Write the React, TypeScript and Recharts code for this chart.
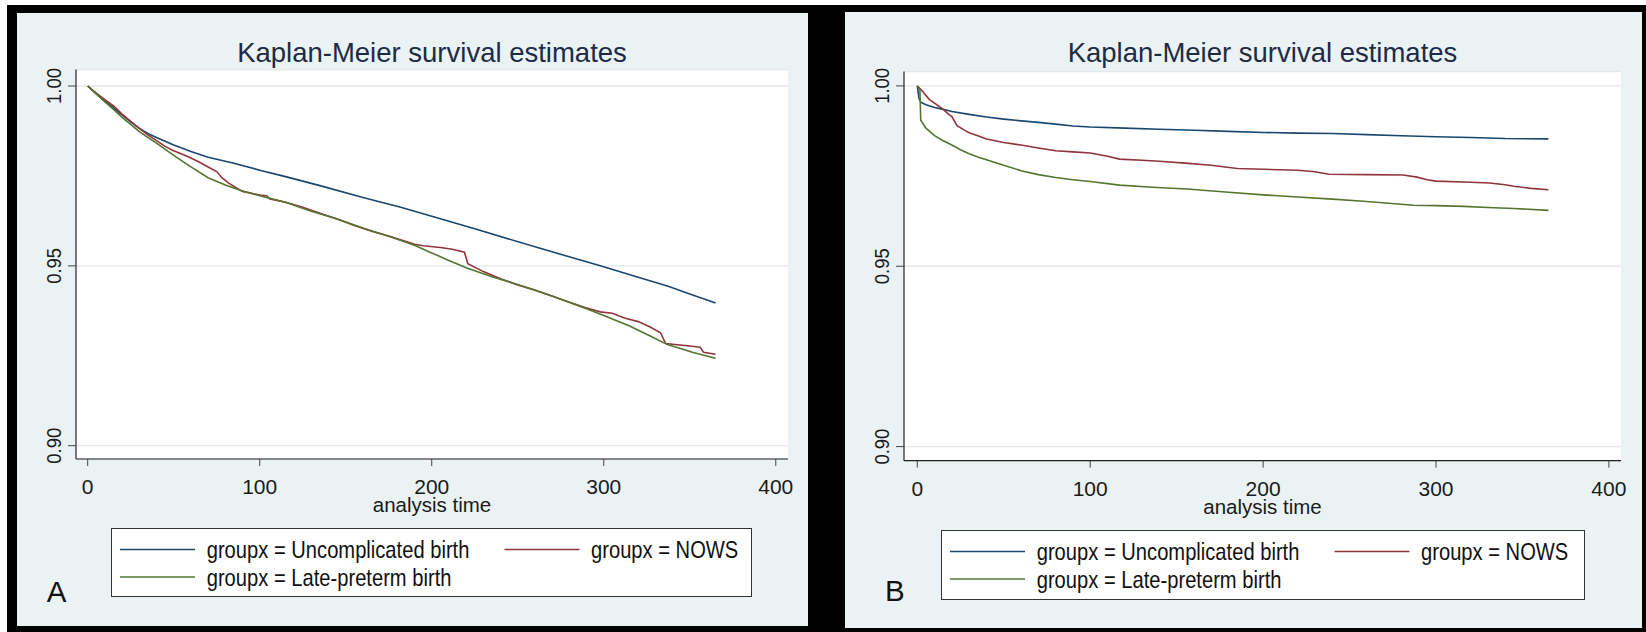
import React from 'react';
import { LineChart, Line, XAxis, YAxis, CartesianGrid, Legend } from 'recharts';

const FONT = '"Liberation Sans", Arial, Helvetica, sans-serif';

const xTicks = [0, 100, 200, 300, 400];
const yTicks = [0.9, 0.95, 1.0];
const seriesNames = ['groupx = Uncomplicated birth', 'groupx = NOWS', 'groupx = Late-preterm birth'];
const seriesColors = ['#1a476f', '#90353b', '#55752f'];

// ---- panel A : survival by day ----
const timeA_uncomp = [0, 5, 10, 15, 20, 25, 30, 35, 40, 50, 60, 70, 85, 100, 115, 135, 160, 182, 200, 225, 260, 298, 320, 337, 350, 365];
const survA_uncomp = [1.0, 0.9978, 0.9958, 0.994, 0.992, 0.99, 0.9882, 0.9868, 0.9857, 0.9836, 0.9818, 0.9802, 0.9785, 0.9766, 0.9748, 0.9723, 0.969, 0.9663, 0.9638, 0.9603, 0.9553, 0.95, 0.9468, 0.9444, 0.9422, 0.9397];

const timeA_nows = [0, 5, 10, 15, 20, 25, 30, 35, 40, 45, 50, 55, 60, 65, 70, 75, 78, 82, 86, 90, 100, 104, 106, 110, 115, 125, 135, 145, 155, 165, 175, 185, 190, 195, 205, 212, 219, 221, 230, 240, 250, 260, 270, 280, 290, 298, 305, 312, 320, 327, 333, 336, 340, 350, 356, 358, 365];
const survA_nows = [1.0, 0.998, 0.9962, 0.9945, 0.9922, 0.9902, 0.9882, 0.9864, 0.9848, 0.9832, 0.982, 0.981, 0.98, 0.9788, 0.9775, 0.9762, 0.9745, 0.973, 0.9718, 0.9707, 0.9697, 0.9695, 0.9686, 0.9682, 0.9677, 0.9663, 0.9646, 0.963, 0.9612, 0.9596, 0.9583, 0.9568, 0.956, 0.9556, 0.9551, 0.9546, 0.9538, 0.9506, 0.9484, 0.9464, 0.9447, 0.9432, 0.9416, 0.9399, 0.9383, 0.9372, 0.9368, 0.9355, 0.9345, 0.933, 0.9314, 0.9284, 0.9282, 0.9277, 0.9274, 0.926, 0.9254];

const timeA_late = [0, 5, 10, 15, 20, 25, 30, 35, 40, 50, 60, 70, 80, 90, 100, 115, 130, 145, 160, 175, 190, 200, 210, 220, 235, 250, 260, 275, 290, 300, 315, 327, 337, 352, 365];
const survA_late = [1.0, 0.9978, 0.9956, 0.9935, 0.9913, 0.9893, 0.9873, 0.9857, 0.9841, 0.9807, 0.9775, 0.9745, 0.9725, 0.9708, 0.9695, 0.9677, 0.9652, 0.963, 0.9605, 0.9582, 0.9557, 0.9536, 0.9515, 0.9495, 0.947, 0.9448, 0.9433, 0.9407, 0.9381, 0.9362, 0.9333, 0.9305, 0.9281, 0.9259, 0.9243];

// ---- panel B ----
const timeB_uncomp = [0, 1, 2, 5, 10, 15, 20, 30, 40, 50, 60, 70, 80, 90, 100, 120, 140, 160, 180, 200, 220, 240, 260, 280, 300, 320, 340, 365];
const survB_uncomp = [1.0, 0.9965, 0.9955, 0.9948, 0.994, 0.9935, 0.9929, 0.9921, 0.9914, 0.9908, 0.9903, 0.9899, 0.9894, 0.9889, 0.9886, 0.9883, 0.988, 0.9877, 0.9874, 0.9871, 0.9869, 0.9868, 0.9865, 0.9862, 0.9859, 0.9857, 0.9854, 0.9853];

const timeB_nows = [0, 3, 7, 10, 15, 18, 20, 23, 27, 30, 35, 40, 50, 60, 70, 80, 90, 100, 110, 117, 130, 140, 155, 170, 185, 200, 220, 230, 238, 260, 281, 289, 295, 300, 320, 331, 340, 345, 355, 365];
const survB_nows = [1.0, 0.9985, 0.9962, 0.9952, 0.9935, 0.9922, 0.9915, 0.989, 0.9878, 0.987, 0.9862, 0.9853, 0.9843, 0.9836, 0.9828, 0.982, 0.9817, 0.9814, 0.9805, 0.9797, 0.9794, 0.9791, 0.9786, 0.978, 0.9771, 0.9769, 0.9766, 0.9762, 0.9755, 0.9754, 0.9753, 0.9747, 0.974, 0.9736, 0.9733, 0.9731, 0.9726, 0.9722, 0.9716, 0.9712];

const timeB_late = [0, 1.5, 2, 5, 10, 15, 20, 25, 30, 35, 40, 50, 60, 70, 80, 90, 100, 117, 136, 156, 180, 200, 220, 240, 258, 287, 300, 316, 330, 345, 365];
const survB_late = [1.0, 0.999, 0.9905, 0.9883, 0.9862, 0.9848, 0.9836, 0.9823, 0.9812, 0.9803, 0.9795, 0.978, 0.9765, 0.9754, 0.9746, 0.974, 0.9735, 0.9725, 0.9719, 0.9714, 0.9705, 0.9698, 0.9692, 0.9686, 0.968, 0.9669, 0.9668, 0.9666, 0.9663, 0.966, 0.9655];

const toRows = (t: number[], s: number[]) => t.map((v, i) => ({ t: v, s: s[i] }));

const seriesA = [toRows(timeA_uncomp, survA_uncomp), toRows(timeA_nows, survA_nows), toRows(timeA_late, survA_late)];
const seriesB = [toRows(timeB_uncomp, survB_uncomp), toRows(timeB_nows, survB_nows), toRows(timeB_late, survB_late)];

const panelA = {
  left: 17, top: 13, width: 791, height: 613,
  mTop: 56.5, mRight: 20, xAxisH: 167,
  xDomain: [-6.8, 407.1], yDomain: [0.896302, 1.004587],
  legend: { left: 94, top: 515, w: 641, h: 69 },
  letter: 'A', letterX: 46.7, letterY: 601.5, titleY: 61.5,
};
const panelB = {
  left: 845, top: 12, width: 797, height: 616,
  mTop: 59.5, mRight: 21, xAxisH: 167.3,
  xDomain: [-7.69, 407.0], yDomain: [0.896091, 1.003992],
  legend: { left: 96, top: 518, w: 644, h: 70 },
  letter: 'B', letterX: 885, letterY: 600.5, titleY: 62,
};

const renderXTick = (props: any) => {
  const { x, y, payload } = props;
  return (
    <text x={x} y={y + 26} textAnchor="middle" fontSize={21} fontFamily={FONT} fill="#1a1a1a">
      {payload.value}
    </text>
  );
};

const renderYTick = (props: any) => {
  const { x, y, payload } = props;
  return (
    <g transform={`translate(${x - 5},${y}) rotate(-90) scale(0.88,1)`}>
      <text x={0} y={0} textAnchor="middle" fontSize={21} fontFamily={FONT} fill="#1a1a1a">
        {Number(payload.value).toFixed(2)}
      </text>
    </g>
  );
};

const KMLegend = ({ box }: any) => {
  const lineX = [9, 393.5];
  const textX = [95.7, 480];
  const rowY = [21.5, 49];
  return (
    <svg width={box.w} height={box.h} style={{ display: 'block' }}>
      <rect x={0.5} y={0.5} width={box.w - 1} height={box.h - 1} fill="#fff" stroke="#333" strokeWidth={1} />
      {seriesNames.map((name, i) => {
        const col = i === 1 ? 1 : 0;
        const row = i === 2 ? 1 : 0;
        return (
          <g key={name}>
            <line x1={lineX[col]} x2={lineX[col] + 75} y1={rowY[row]} y2={rowY[row]} stroke={seriesColors[i]} strokeWidth={1.6} />
            <g transform={`translate(${textX[col]},${rowY[row] + 8.6}) scale(0.84,1)`}>
              <text x={0} y={0} fontSize={24} fontFamily={FONT} fill="#111">{name}</text>
            </g>
          </g>
        );
      })}
    </svg>
  );
};

function KMPanel({ cfg, series }: any) {
  const plotW = cfg.width - 59 - cfg.mRight;
  const plotH = cfg.height - cfg.mTop - cfg.xAxisH;
  const renderXTitle = () => (
    <text x={59 + plotW / 2} y={cfg.mTop + plotH + 53} textAnchor="middle" fontSize={20.5} fontFamily={FONT} fill="#1a1a1a">
      analysis time
    </text>
  );
  return (
    <div style={{ position: 'absolute', left: cfg.left, top: cfg.top, width: cfg.width, height: cfg.height, background: '#eaf2f3' }}>
      <LineChart width={cfg.width} height={cfg.height} data={series[0]} margin={{ top: cfg.mTop, right: cfg.mRight, left: 0, bottom: 0 }}>
        <CartesianGrid vertical={false} fill="#ffffff" stroke="#e1e9eb" strokeWidth={1.3} />
        <XAxis
          type="number"
          dataKey="t"
          domain={cfg.xDomain}
          ticks={xTicks}
          interval={0}
          allowDataOverflow
          height={cfg.xAxisH}
          tickSize={7}
          tick={renderXTick}
          axisLine={{ stroke: '#222', strokeWidth: 1.2 }}
          tickLine={{ stroke: '#444' }}
          label={renderXTitle}
        />
        <YAxis
          type="number"
          domain={cfg.yDomain}
          ticks={yTicks}
          interval={0}
          allowDataOverflow
          width={59}
          tickSize={8}
          tick={renderYTick}
          axisLine={{ stroke: '#222', strokeWidth: 1.2 }}
          tickLine={{ stroke: '#444' }}
        />
        <Legend
          layout="horizontal"
          verticalAlign="middle"
          align="center"
          wrapperStyle={{ position: 'absolute', left: cfg.legend.left, top: cfg.legend.top, width: cfg.legend.w, height: cfg.legend.h }}
          content={() => <KMLegend box={cfg.legend} />}
        />
        {series.map((rows: any[], i: number) => (
          <Line
            key={seriesNames[i]}
            data={rows}
            dataKey="s"
            name={seriesNames[i]}
            type="linear"
            stroke={seriesColors[i]}
            strokeWidth={1.6}
            dot={false}
            activeDot={false}
            isAnimationActive={false}
          />
        ))}
      </LineChart>
    </div>
  );
}

export default function App() {
  const titleCenters = [panelA.left + 59 + (panelA.width - 59 - panelA.mRight) / 2, panelB.left + 59 + (panelB.width - 59 - panelB.mRight) / 2];
  return (
    <div style={{ position: 'absolute', left: 0, top: 0, width: 1646, height: 632, background: '#fff', overflow: 'hidden' }}>
      <div style={{ position: 'absolute', left: 7, top: 5, width: 1639, height: 627, background: '#000' }} />
      <KMPanel cfg={panelA} series={seriesA} />
      <KMPanel cfg={panelB} series={seriesB} />
      <svg width={1646} height={632} style={{ position: 'absolute', left: 0, top: 0, pointerEvents: 'none' }}>
        {[panelA, panelB].map((p, i) => (
          <g key={p.letter}>
            <text x={titleCenters[i]} y={p.titleY} textAnchor="middle" fontSize={27.5} fontFamily={FONT} fill="#1e2b45">
              Kaplan-Meier survival estimates
            </text>
            <text x={p.letterX} y={p.letterY} fontSize={29.5} fontFamily={FONT} fill="#111">
              {p.letter}
            </text>
          </g>
        ))}
      </svg>
    </div>
  );
}
